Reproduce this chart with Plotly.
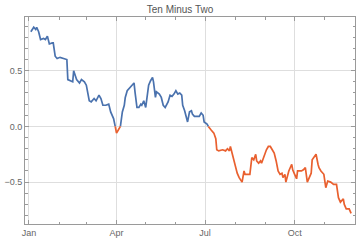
import plotly.graph_objects as go
import pandas as pd

title = "Ten Minus Two"
dates = ["2022-01-03","2022-01-06","2022-01-08","2022-01-09","2022-01-11","2022-01-13","2022-01-16","2022-01-18",
         "2022-01-20","2022-01-22","2022-01-25","2022-01-26","2022-01-28","2022-01-30","2022-02-02","2022-02-07",
         "2022-02-09","2022-02-10","2022-02-12","2022-02-15","2022-02-16","2022-02-19","2022-02-22","2022-02-24",
         "2022-02-27","2022-03-01","2022-03-04","2022-03-06","2022-03-09","2022-03-11","2022-03-14","2022-03-16",
         "2022-03-18","2022-03-21","2022-03-24","2022-03-26","2022-03-29","2022-03-30","2022-04-01","2022-04-03",
         "2022-04-05","2022-04-07","2022-04-09","2022-04-10","2022-04-12","2022-04-15","2022-04-17","2022-04-19",
         "2022-04-20","2022-04-21","2022-04-22","2022-04-24","2022-04-26","2022-04-27","2022-04-29","2022-05-01",
         "2022-05-02","2022-05-04","2022-05-06","2022-05-08","2022-05-09","2022-05-11","2022-05-12","2022-05-15",
         "2022-05-17","2022-05-19","2022-05-21","2022-05-24","2022-05-26","2022-05-28","2022-05-30","2022-06-01",
         "2022-06-03","2022-06-05","2022-06-07","2022-06-08","2022-06-10","2022-06-12","2022-06-13","2022-06-15",
         "2022-06-17","2022-06-18","2022-06-20","2022-06-24","2022-06-25","2022-06-27","2022-06-29","2022-06-30",
         "2022-07-03","2022-07-05","2022-07-07","2022-07-10","2022-07-12","2022-07-13","2022-07-15","2022-07-19",
         "2022-07-22","2022-07-24","2022-07-26","2022-07-27","2022-07-29","2022-08-01","2022-08-03","2022-08-05",
         "2022-08-08","2022-08-10","2022-08-11","2022-08-13","2022-08-16","2022-08-18","2022-08-20","2022-08-22",
         "2022-08-23","2022-08-25","2022-08-27","2022-08-28","2022-08-30","2022-09-02","2022-09-04","2022-09-06",
         "2022-09-08","2022-09-10","2022-09-12","2022-09-14","2022-09-16","2022-09-18","2022-09-19","2022-09-21",
         "2022-09-22","2022-09-23","2022-09-25","2022-09-28","2022-09-29","2022-10-01","2022-10-03","2022-10-04",
         "2022-10-08","2022-10-10","2022-10-12","2022-10-14","2022-10-16","2022-10-18","2022-10-19","2022-10-21",
         "2022-10-23","2022-10-25","2022-10-26","2022-10-28","2022-10-31","2022-11-02","2022-11-04","2022-11-07",
         "2022-11-10","2022-11-13","2022-11-15","2022-11-17","2022-11-20","2022-11-21","2022-11-23","2022-11-26",
         "2022-11-28"]
spread = [0.85,0.89,0.87,0.89,0.85,0.78,0.79,0.78,
          0.81,0.74,0.75,0.75,0.63,0.61,0.62,0.61,
          0.60,0.42,0.41,0.40,0.50,0.42,0.39,0.42,
          0.40,0.37,0.23,0.22,0.25,0.23,0.28,0.25,
          0.19,0.19,0.20,0.13,0.07,0.03,-0.06,-0.03,
          0.00,0.13,0.19,0.26,0.32,0.35,0.38,0.39,
          0.31,0.24,0.17,0.17,0.20,0.19,0.23,0.17,
          0.25,0.37,0.41,0.44,0.40,0.26,0.31,0.29,
          0.26,0.19,0.17,0.22,0.28,0.27,0.29,0.32,
          0.29,0.30,0.28,0.19,0.14,0.07,0.04,0.13,
          0.14,0.11,0.09,0.09,0.09,0.12,0.10,0.04,
          0.02,-0.01,-0.03,-0.06,-0.11,-0.21,-0.22,-0.21,
          -0.22,-0.20,-0.22,-0.18,-0.25,-0.36,-0.42,-0.46,
          -0.50,-0.40,-0.43,-0.43,-0.43,-0.28,-0.30,-0.25,
          -0.31,-0.33,-0.31,-0.33,-0.28,-0.21,-0.18,-0.18,
          -0.21,-0.24,-0.31,-0.40,-0.43,-0.42,-0.46,-0.43,
          -0.50,-0.47,-0.40,-0.34,-0.39,-0.43,-0.47,-0.40,
          -0.40,-0.39,-0.37,-0.50,-0.45,-0.42,-0.30,-0.27,
          -0.25,-0.34,-0.37,-0.40,-0.43,-0.55,-0.49,-0.50,
          -0.52,-0.52,-0.64,-0.68,-0.65,-0.70,-0.74,-0.74,
          -0.78]
tick_vals = ["2022-01-01", "2022-04-01", "2022-07-01", "2022-10-01"]
tick_text = ["Jan", "Apr", "Jul", "Oct"]

BLUE = "#4A72AE"
ORANGE = "#E9602F"

# split into positive / negative pieces, joined at the zero crossing
ts = pd.to_datetime(dates)
pos_x, pos_y, neg_x, neg_y = [], [], [], []
for i in range(len(ts)):
    v = spread[i]
    if i > 0:
        pv = spread[i - 1]
        if (pv >= 0) != (v >= 0):
            frac = pv / (pv - v)
            tc = ts[i - 1] + (ts[i] - ts[i - 1]) * frac
            pos_x.append(tc); pos_y.append(0.0)
            neg_x.append(tc); neg_y.append(0.0)
            if v >= 0:
                neg_x.append(None); neg_y.append(None)
            else:
                pos_x.append(None); pos_y.append(None)
    if v >= 0:
        pos_x.append(ts[i]); pos_y.append(v)
    else:
        neg_x.append(ts[i]); neg_y.append(v)

fig = go.Figure()
fig.add_trace(go.Scatter(x=pos_x, y=pos_y, mode="lines", line=dict(color=BLUE, width=1.7),
                         connectgaps=False, showlegend=False))
fig.add_trace(go.Scatter(x=neg_x, y=neg_y, mode="lines", line=dict(color=ORANGE, width=1.7),
                         connectgaps=False, showlegend=False))

axis_common = dict(showline=True, linecolor="#9a9a9a", linewidth=1, mirror="ticks",
                   ticks="inside", tickcolor="#9a9a9a", ticklen=4, tickwidth=1,
                   gridcolor="#dedede", gridwidth=1, zeroline=False,
                   tickfont=dict(family="Liberation Sans, Arial", size=9, color="#666666"))

fig.update_xaxes(**axis_common, type="date", range=["2021-12-28", "2022-12-02"],
                 tickvals=tick_vals, ticktext=tick_text,
                 minor=dict(ticks="inside", ticklen=2.5, tickcolor="#9a9a9a", dtick="M1",
                            tick0="2022-01-01", showgrid=False))
fig.update_yaxes(**axis_common, range=[-0.876, 0.982], tickvals=[-0.5, 0.0, 0.5], tickformat=".1f",
                 minor=dict(ticks="inside", ticklen=2.5, tickcolor="#9a9a9a", dtick=0.1,
                            tick0=0, showgrid=False))

fig.update_layout(
    width=360, height=242,
    margin=dict(l=21, r=4, t=17, b=15),
    paper_bgcolor="white", plot_bgcolor="white",
    title=dict(text=title, x=0.5, xanchor="center", y=0.975, yanchor="top",
               font=dict(family="Liberation Sans, Arial", size=10, color="#555555")),
)
fig.write_html("out.html")
